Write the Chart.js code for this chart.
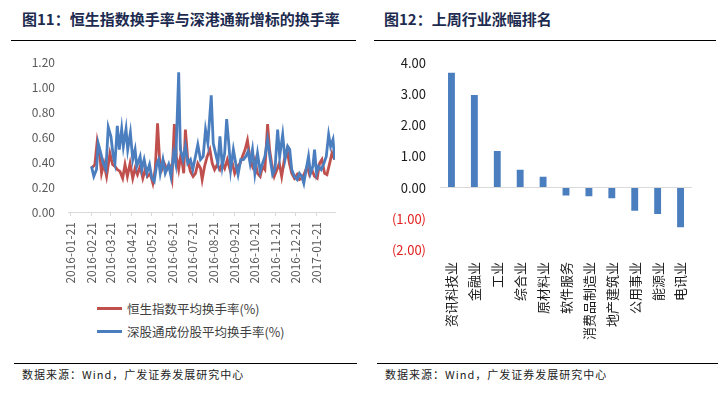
<!DOCTYPE html>
<html>
<head>
<meta charset="utf-8">
<script src="https://cdn.jsdelivr.net/npm/chart.js@4.4.0/dist/chart.umd.min.js"></script>
<style>
  body { margin: 0; background: #fff; width: 728px; height: 393px; position: relative; overflow: hidden; font-family: "Noto Sans CJK SC", sans-serif; }
  .title { position: absolute; top: 8px; font-size: 15px; font-weight: bold; color: #1c2b4f; white-space: nowrap; }
  .rule { position: absolute; height: 0; border-top: 1.5px solid #000; }
  .source { position: absolute; top: 366px; font-size: 11px; letter-spacing: 1px; color: #222; white-space: nowrap; }
  #leftBox { position: absolute; left: 0; top: 42px; width: 355px; height: 248px; }
  #rightBox { position: absolute; left: 364px; top: 41px; width: 350px; height: 309px; }
  #legend { position: absolute; left: 97px; top: 297px; font-size: 12.5px; color: #404040; }
  #legend .item { height: 23px; display: flex; align-items: center; white-space: nowrap; }
  #legend .swatch { width: 25px; height: 3px; margin-right: 5px; }
</style>
</head>
<body>
<div class="title" style="left:22px;">图11：恒生指数换手率与深港通新增标的换手率</div>
<div class="title" style="left:384px;">图12：上周行业涨幅排名</div>
<div class="rule" style="left:11px; width:345px; top:40px;"></div>
<div class="rule" style="left:374px; width:342px; top:40px;"></div>

<div id="leftBox"><canvas id="turnoverChart"></canvas></div>
<div id="legend"></div>
<div id="rightBox"><canvas id="industryChart"></canvas></div>

<div class="rule" style="left:14px; width:343px; top:363px;"></div>
<div class="rule" style="left:377px; width:341px; top:363px;"></div>
<div class="source" style="left:22px;">数据来源：Wind，广发证券发展研究中心</div>
<div class="source" style="left:385px;">数据来源：Wind，广发证券发展研究中心</div>

<script>
// Fig 11: days counted from 2016-01-21, values in %
const startDate = '2016-01-21';
const monthTicks = ['2016-01-21', '2016-02-21', '2016-03-21', '2016-04-21', '2016-05-21', '2016-06-21',
    '2016-07-21', '2016-08-21', '2016-09-21', '2016-10-21', '2016-11-21', '2016-12-21', '2017-01-21'];

const hsDays = [31, 36, 39.5, 43.5, 46, 49.5, 53.5, 58.5, 62.5, 66, 69.5, 73.5, 77.5, 81, 84.5, 88.5, 92.5, 96, 99.5,
    103.5, 107.5, 111, 114.5, 118.5, 122.5, 126, 129.5, 132.5, 136, 139.5, 143.5, 147.5, 151, 154.5, 157.5, 161,
    164.5, 168.5, 171, 174.5, 178.5, 182.5, 186, 189.5, 193.5, 196, 199.5, 203.5, 207.5, 211, 214.5, 218.5, 222.5,
    226, 229.5, 233.5, 237.5, 241, 244.5, 248.5, 252.5, 256, 260, 263.5, 267.5, 271, 274.5, 278.5, 282.5, 286,
    289.5, 293.5, 296.5, 299.5, 303.5, 307.5, 311, 314.5, 318.5, 322.5, 326, 329.5, 333.5, 337.5, 341, 344.5,
    348.5, 352.5, 356, 359.5, 363.5, 367.5, 371, 374.5, 378.5, 382, 386, 389.5, 393.5];
const hsRate = [0.35, 0.38, 0.565, 0.445, 0.31, 0.39, 0.285, 0.47, 0.38, 0.365, 0.34, 0.325, 0.27, 0.38, 0.285, 0.39,
    0.27, 0.35, 0.30, 0.365, 0.27, 0.34, 0.285, 0.31, 0.23, 0.34, 0.71, 0.42, 0.34, 0.39, 0.34, 0.365, 0.27, 0.705,
    0.445, 0.34, 0.47, 0.31, 0.66, 0.42, 0.325, 0.285, 0.31, 0.39, 0.35, 0.26, 0.365, 0.445, 0.50, 0.39, 0.34, 0.38,
    0.34, 0.39, 0.35, 0.42, 0.34, 0.39, 0.31, 0.365, 0.39, 0.445, 0.50, 0.575, 0.42, 0.365, 0.42, 0.31, 0.285,
    0.365, 0.34, 0.705, 0.50, 0.39, 0.285, 0.34, 0.39, 0.285, 0.42, 0.50, 0.39, 0.31, 0.27, 0.30, 0.26, 0.27, 0.31,
    0.365, 0.30, 0.34, 0.285, 0.27, 0.39, 0.42, 0.31, 0.30, 0.39, 0.47, 0.42];

const szDays = [31, 34.5, 38.5, 41, 43.5, 48.5, 52.5, 56, 60, 63.5, 66, 69.5, 72.5, 76, 78.5, 82.5, 85, 89, 92.5, 96,
    98.5, 103.5, 106, 109.5, 113.5, 117.5, 121, 124.5, 128.5, 131, 133.5, 137.5, 141, 146, 149.5, 153.5, 156.5, 161,
    163.5, 167.5, 171, 174.5, 178.5, 182, 186, 189.5, 193.5, 197.5, 201, 204.5, 209.5, 212.5, 216, 219.5, 222.5,
    226, 229.5, 232.5, 236, 238.5, 242.5, 246, 249.5, 253.5, 257.5, 261, 264.5, 267.5, 271, 274.5, 278.5, 282.5,
    286, 289.5, 293.5, 297.5, 301, 304.5, 308.5, 311.5, 316, 319.5, 323.5, 326.5, 329.5, 333.5, 337.5, 341, 344.5,
    347.5, 351, 354.5, 357.5, 361, 363.5, 366.5, 369.5, 373.5, 377.5, 381, 384.5, 387.5, 391, 393.5];
const szRate = [0.365, 0.285, 0.34, 0.55, 0.50, 0.39, 0.34, 0.68, 0.605, 0.445, 0.39, 0.69, 0.50, 0.665, 0.525, 0.665,
    0.50, 0.635, 0.42, 0.50, 0.365, 0.445, 0.34, 0.42, 0.31, 0.38, 0.27, 0.245, 0.39, 0.42, 0.31, 0.42, 0.31, 0.38,
    0.285, 0.47, 0.39, 1.12, 0.50, 0.42, 0.525, 0.39, 0.42, 0.34, 0.445, 0.54, 0.42, 0.445, 0.66, 0.55, 0.935, 0.55,
    0.47, 0.39, 0.605, 0.365, 0.47, 0.745, 0.525, 0.34, 0.50, 0.39, 0.30, 0.42, 0.42, 0.445, 0.485, 0.39, 0.50, 0.31,
    0.47, 0.325, 0.39, 0.445, 0.58, 0.42, 0.30, 0.34, 0.66, 0.445, 0.62, 0.42, 0.525, 0.50, 0.34, 0.285, 0.26, 0.31,
    0.285, 0.23, 0.34, 0.445, 0.31, 0.365, 0.50, 0.31, 0.365, 0.34, 0.39, 0.445, 0.62, 0.525, 0.58, 0.42];

// Fig 12: weekly change by industry
const industries = ['资讯科技业', '金融业', '工业', '综合业', '原材料业', '软件服务', '消费品制造业', '地产建筑业', '公用事业', '能源业', '电讯业'];
const industryChange = [3.68, 2.97, 1.17, 0.57, 0.35, -0.25, -0.28, -0.34, -0.74, -0.85, -1.27];

function dayOf(s) {
    const p = s.split('-').map(Number);
    const q = startDate.split('-').map(Number);
    return Math.round((Date.UTC(p[0], p[1] - 1, p[2]) - Date.UTC(q[0], q[1] - 1, q[2])) / 86400000);
}
const tickLabelByDay = {};
monthTicks.forEach(function (s) { tickLabelByDay[dayOf(s)] = s; });

const font = '"Microsoft YaHei", "Noto Sans CJK SC", sans-serif';
Chart.defaults.font.family = font;
Chart.defaults.animation = false;

const turnoverChart = new Chart(document.getElementById('turnoverChart').getContext('2d'), {
    type: 'line',
    data: {
        datasets: [{
            label: '恒生指数平均换手率(%)',
            data: hsDays.map(function (d, i) { return { x: d, y: hsRate[i] }; }),
            borderColor: '#c0504d',
            borderWidth: 2.8,
            pointRadius: 0,
            tension: 0,
            order: 2
        }, {
            label: '深股通成份股平均换手率(%)',
            data: szDays.map(function (d, i) { return { x: d, y: szRate[i] }; }),
            borderColor: '#4a7ebf',
            borderWidth: 2.8,
            pointRadius: 0,
            tension: 0,
            order: 1
        }]
    },
    options: {
        responsive: true,
        maintainAspectRatio: false,
        layout: { padding: { top: 0, right: 20, bottom: 0, left: 0 } },
        scales: {
            x: {
                type: 'linear',
                min: -4,
                max: 394,
                afterBuildTicks: function (axis) {
                    axis.ticks = monthTicks.map(function (s) { return { value: dayOf(s) }; });
                },
                afterFit: function (axis) { axis.height = 78; },
                ticks: {
                    autoSkip: false,
                    minRotation: 90,
                    maxRotation: 90,
                    padding: 6,
                    color: '#595959',
                    font: { size: 12 },
                    callback: function (value) { return tickLabelByDay[value] || ''; }
                },
                grid: {
                    display: true,
                    drawOnChartArea: false,
                    drawTicks: true,
                    tickLength: 4,
                    color: '#d9d9d9'
                },
                border: { display: true, color: '#d9d9d9' }
            },
            y: {
                min: 0,
                max: 1.2,
                afterFit: function (axis) { axis.width = 68; },
                ticks: {
                    stepSize: 0.2,
                    padding: 13,
                    color: '#595959',
                    font: { size: 12 },
                    callback: function (value) { return value.toFixed(2); }
                },
                grid: { display: false, drawTicks: false },
                border: { display: false }
            }
        },
        plugins: {
            legend: { display: false },
            tooltip: { enabled: false }
        }
    }
});

// legend built from the chart's datasets, one per row
const legendBox = document.getElementById('legend');
turnoverChart.data.datasets.forEach(function (ds) {
    const row = document.createElement('div');
    row.className = 'item';
    const sw = document.createElement('span');
    sw.className = 'swatch';
    sw.style.background = ds.borderColor;
    row.appendChild(sw);
    row.appendChild(document.createTextNode(ds.label));
    legendBox.appendChild(row);
});

const industryChart = new Chart(document.getElementById('industryChart').getContext('2d'), {
    type: 'bar',
    data: {
        labels: industries,
        datasets: [{
            label: '涨幅',
            data: industryChange,
            backgroundColor: '#4a7ebf',
            barPercentage: 0.6,
            categoryPercentage: 0.5
        }]
    },
    options: {
        responsive: true,
        maintainAspectRatio: false,
        layout: { padding: { top: 0, right: 22, bottom: 0, left: 0 } },
        scales: {
            x: {
                afterFit: function (axis) { axis.height = 100; },
                ticks: {
                    autoSkip: false,
                    minRotation: 90,
                    maxRotation: 90,
                    padding: 12,
                    color: '#1a1a1a',
                    font: { size: 13 }
                },
                grid: { display: false, drawTicks: false },
                border: { display: false }
            },
            y: {
                min: -2,
                max: 4,
                afterFit: function (axis) { axis.width = 76; },
                ticks: {
                    stepSize: 1,
                    padding: 14,
                    font: { size: 13 },
                    color: function (ctx) { return ctx.tick && ctx.tick.value < 0 ? '#e0201e' : '#1a1a1a'; },
                    callback: function (value) {
                        return value < 0 ? '(' + Math.abs(value).toFixed(2) + ')' : value.toFixed(2);
                    }
                },
                grid: {
                    drawTicks: false,
                    color: function (ctx) { return ctx.tick && ctx.tick.value === 0 ? '#d9d9d9' : 'rgba(0,0,0,0)'; }
                },
                border: { display: false }
            }
        },
        plugins: {
            legend: { display: false },
            tooltip: { enabled: false }
        }
    }
});
</script>
</body>
</html>
